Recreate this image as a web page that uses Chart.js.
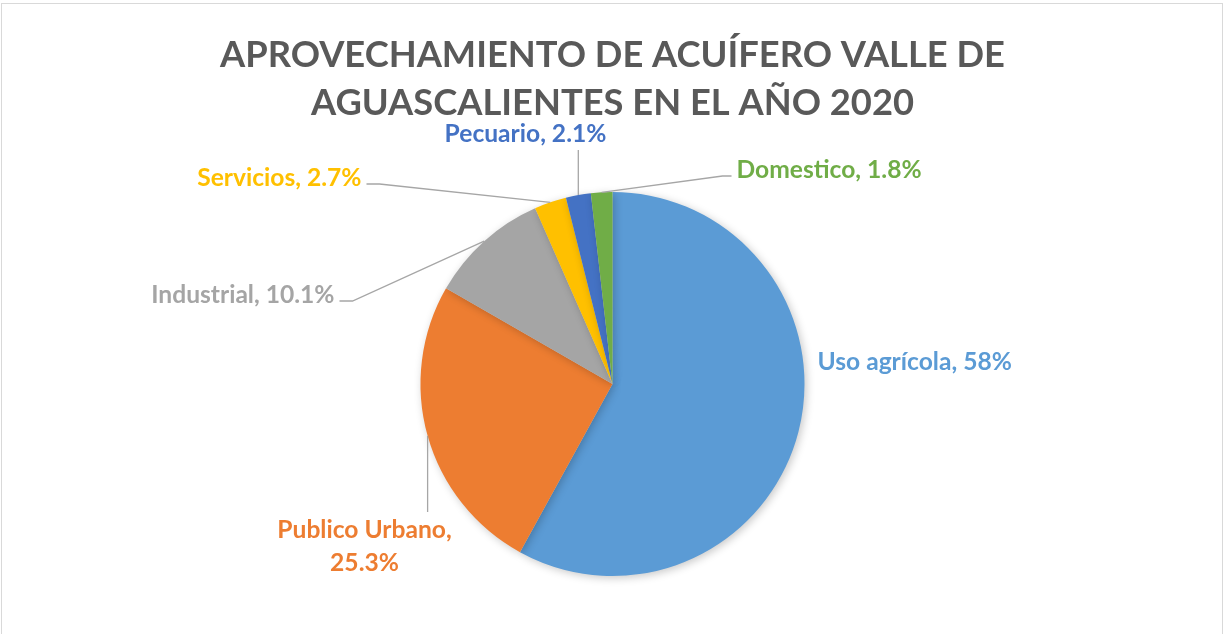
<!DOCTYPE html>
<html>
<head>
<meta charset="utf-8">
<script src="https://cdn.jsdelivr.net/npm/chart.js@4"></script>
<style>
  html, body { margin: 0; padding: 0; background: #fff; }
  canvas { display: block; }
</style>
</head>
<body>
<canvas id="acuiferoChart" width="1225" height="634"></canvas>
<script>
// datos del aprovechamiento
const categorias = ['Uso agrícola', 'Publico Urbano', 'Industrial', 'Servicios', 'Pecuario', 'Domestico'];
const porcentajes = [58, 25.3, 10.1, 2.7, 2.1, 1.8];
const colores = ['#5B9BD5', '#ED7D31', '#A5A5A5', '#FFC000', '#4472C4', '#70AD47'];
const titulo = ['APROVECHAMIENTO DE ACUÍFERO VALLE DE', 'AGUASCALIENTES EN EL AÑO 2020'];

// posicion de etiquetas (relativa al centro del pastel) y puntos de la linea guia
const etiquetas = [
  { dx: 205, dy: -22, align: 'left', lines: 1, guia: [] },
  { dx: -248, dy: 146, align: 'center', lines: 2, guia: [[-185, 128]] },
  { dx: -278, dy: -89, align: 'right', lines: 1, guia: [[-260, -83], [-273, -83]] },
  { dx: -251, dy: -206, align: 'right', lines: 1, guia: [[-233, -200], [-246, -200]] },
  { dx: -87, dy: -250, align: 'center', lines: 1, guia: [[-35, -234]] },
  { dx: 124, dy: -214, align: 'left', lines: 1, guia: [[110, -208], [119, -208]] }
];

const FUENTE = 'Lato, "Open Sans", sans-serif';

// sombra suave del pastel
const sombraPlugin = {
  id: 'sombra',
  beforeDatasetsDraw(chart) {
    const ctx = chart.ctx;
    ctx.save();
    ctx.shadowColor = 'rgba(0,0,0,0.22)';
    ctx.shadowBlur = 9;
    ctx.shadowOffsetX = 2;
    ctx.shadowOffsetY = 2;
  },
  afterDatasetsDraw(chart) {
    chart.ctx.restore();
  }
};

// etiquetas con lineas guia
const etiquetasPlugin = {
  id: 'etiquetas',
  afterDraw(chart) {
    const ctx = chart.ctx;
    const meta = chart.getDatasetMeta(0);
    ctx.save();
    // marco del grafico
    ctx.strokeStyle = '#D9D9D9';
    ctx.lineWidth = 1;
    ctx.strokeRect(1.5, 3.5, 1221, 650);

    meta.data.forEach((arc, i) => {
      const p = arc.getProps(['x', 'y', 'startAngle', 'endAngle', 'outerRadius'], true);
      const cx = p.x, cy = p.y;
      const mid = (p.startAngle + p.endAngle) / 2;
      const ex = cx + p.outerRadius * Math.cos(mid);
      const ey = cy + p.outerRadius * Math.sin(mid);
      const e = etiquetas[i];

      if (e.guia.length) {
        ctx.strokeStyle = '#A6A6A6';
        ctx.lineWidth = 1.3;
        ctx.beginPath();
        ctx.moveTo(ex, ey);
        e.guia.forEach((g, k) => {
          // la primera guia vertical conserva la x del borde
          const gx = (e.guia.length === 1) ? ex : cx + g[0];
          ctx.lineTo(gx, cy + g[1]);
        });
        ctx.stroke();
      }

      const valor = porcentajes[i] + '%';
      ctx.fillStyle = colores[i];
      ctx.font = 'bold 24.6px ' + FUENTE;
      ctx.textAlign = e.align;
      ctx.textBaseline = 'middle';
      if (e.lines === 2) {
        ctx.fillText(categorias[i] + ',', cx + e.dx, cy + e.dy);
        ctx.fillText(valor, cx + e.dx, cy + e.dy + 33);
      } else {
        ctx.fillText(categorias[i] + ', ' + valor, cx + e.dx, cy + e.dy);
      }
    });
    ctx.restore();
  }
};

new Chart(document.getElementById('acuiferoChart'), {
  type: 'pie',
  data: {
    labels: categorias,
    datasets: [{
      data: porcentajes,
      backgroundColor: colores,
      borderColor: '#ffffff',
      borderWidth: 0
    }]
  },
  options: {
    responsive: false,
    animation: false,
    layout: { padding: { top: 0, bottom: 58, left: 0, right: 0 } },
    plugins: {
      legend: { display: false },
      tooltip: { enabled: false },
      title: {
        display: true,
        text: titulo,
        color: '#595959',
        font: { family: FUENTE, size: 36.3, weight: 'bold', lineHeight: 1.322 },
        padding: { top: 31, bottom: 65 }
      }
    }
  },
  plugins: [sombraPlugin, etiquetasPlugin]
});
</script>
</body>
</html>
